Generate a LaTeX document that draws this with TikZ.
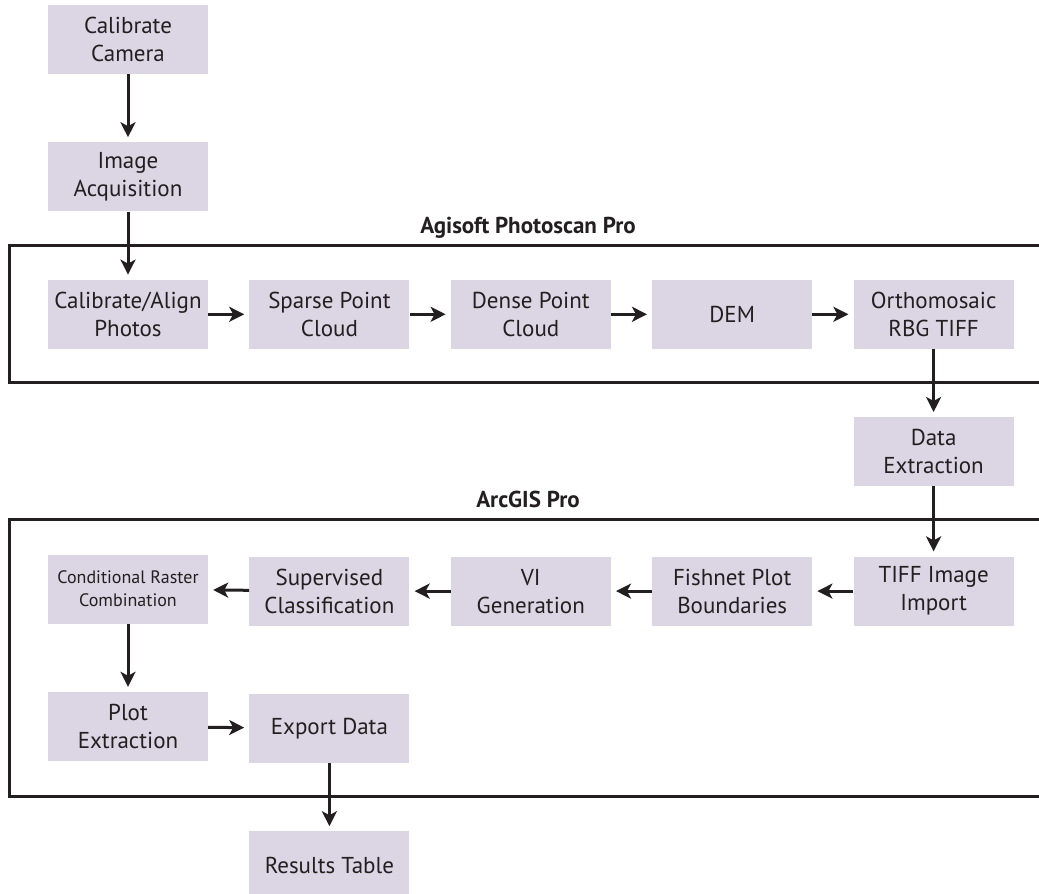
\documentclass[tikz,border=0pt]{standalone}
\usepackage{fontspec}
\setmainfont{PT Sans}
\usetikzlibrary{arrows.meta, positioning}
\definecolor{boxlilac}{HTML}{DCD5E3}
\definecolor{inkblack}{HTML}{231F20}

\begin{document}
\begin{tikzpicture}[x=1pt, y=-1pt, node distance=68pt and 41pt]
\tikzstyle{stage} = [rectangle, minimum width=160pt, minimum height=69pt, inner sep=0pt, text centered, align=center, fill=boxlilac, text=inkblack, font=\fontsize{23}{28}\selectfont]
\tikzstyle{small} = [font=\fontsize{18}{23}\selectfont]
\tikzstyle{flow} = [-{Stealth[length=15pt, width=15pt, inset=4pt]}, line width=3pt, draw=inkblack, shorten >=5pt]
\tikzstyle{frame} = [line width=3pt, draw=inkblack]
\tikzstyle{heading} = [font=\bfseries\fontsize{23}{28}\selectfont, text=inkblack]

\useasboundingbox (0,0) rectangle (1039,894);

% software frames
\draw[frame] (1060,245) -- (9,245) -- (9,382) -- (1060,382);
\draw[frame] (1060,519) -- (9,519) -- (9,796) -- (1060,796);
\node (photoscan) [heading, anchor=base] at (528,233) {Agisoft Photoscan Pro};
\node (arcgis) [heading, anchor=base] at (528,507) {ArcGIS Pro};

\node (camera) [stage] at (128,39.5) {Calibrate\\Camera};
\node (acquire) [stage, below=of camera] {Image\\Acquisition};
\node (align) [stage, below=of acquire] {Calibrate/Align\\Photos};
\node (sparse) [stage, right=of align] {Sparse Point\\Cloud};
\node (dense) [stage, right=of sparse] {Dense Point\\Cloud};
\node (dem) [stage, right=of dense] {DEM};
\node (ortho) [stage, right=of dem] {Orthomosaic\\RBG TIFF};
\node (extract) [stage, below=of ortho] {Data\\Extraction};
\node (import) [stage, below=of extract, yshift=-2pt] {TIFF Image\\Import};
\node (fishnet) [stage, left=of import] {Fishnet Plot\\Boundaries};
\node (vi) [stage, left=of fishnet] {VI\\Generation};
\node (classify) [stage, left=of vi] {Supervised\\Classification};
\node (raster) [stage, small, left=of classify, yshift=2pt] {Conditional Raster\\Combination};
\node (plot) [stage, below=of raster] {Plot\\Extraction};
\node (export) [stage, right=of plot, yshift=-2pt] {Export Data};
\node (results) [stage, below=of export] {Results Table};

\draw[flow] (camera) -- (acquire);
\draw[flow] (acquire) -- (align);
\draw[flow] (align) -- (sparse);
\draw[flow] (sparse) -- (dense);
\draw[flow] (dense) -- (dem);
\draw[flow] (dem) -- (ortho);
\draw[flow] (ortho) -- (extract);
\draw[flow] (extract) -- (import);
\draw[flow] (import) -- (fishnet);
\draw[flow] (fishnet) -- (vi);
\draw[flow] (vi) -- (classify);
\draw[flow] (classify) -- (raster);
\draw[flow] (raster) -- (plot);
\draw[flow] (plot) -- (export);
\draw[flow] (export) -- (results);

\end{tikzpicture}
\end{document}
